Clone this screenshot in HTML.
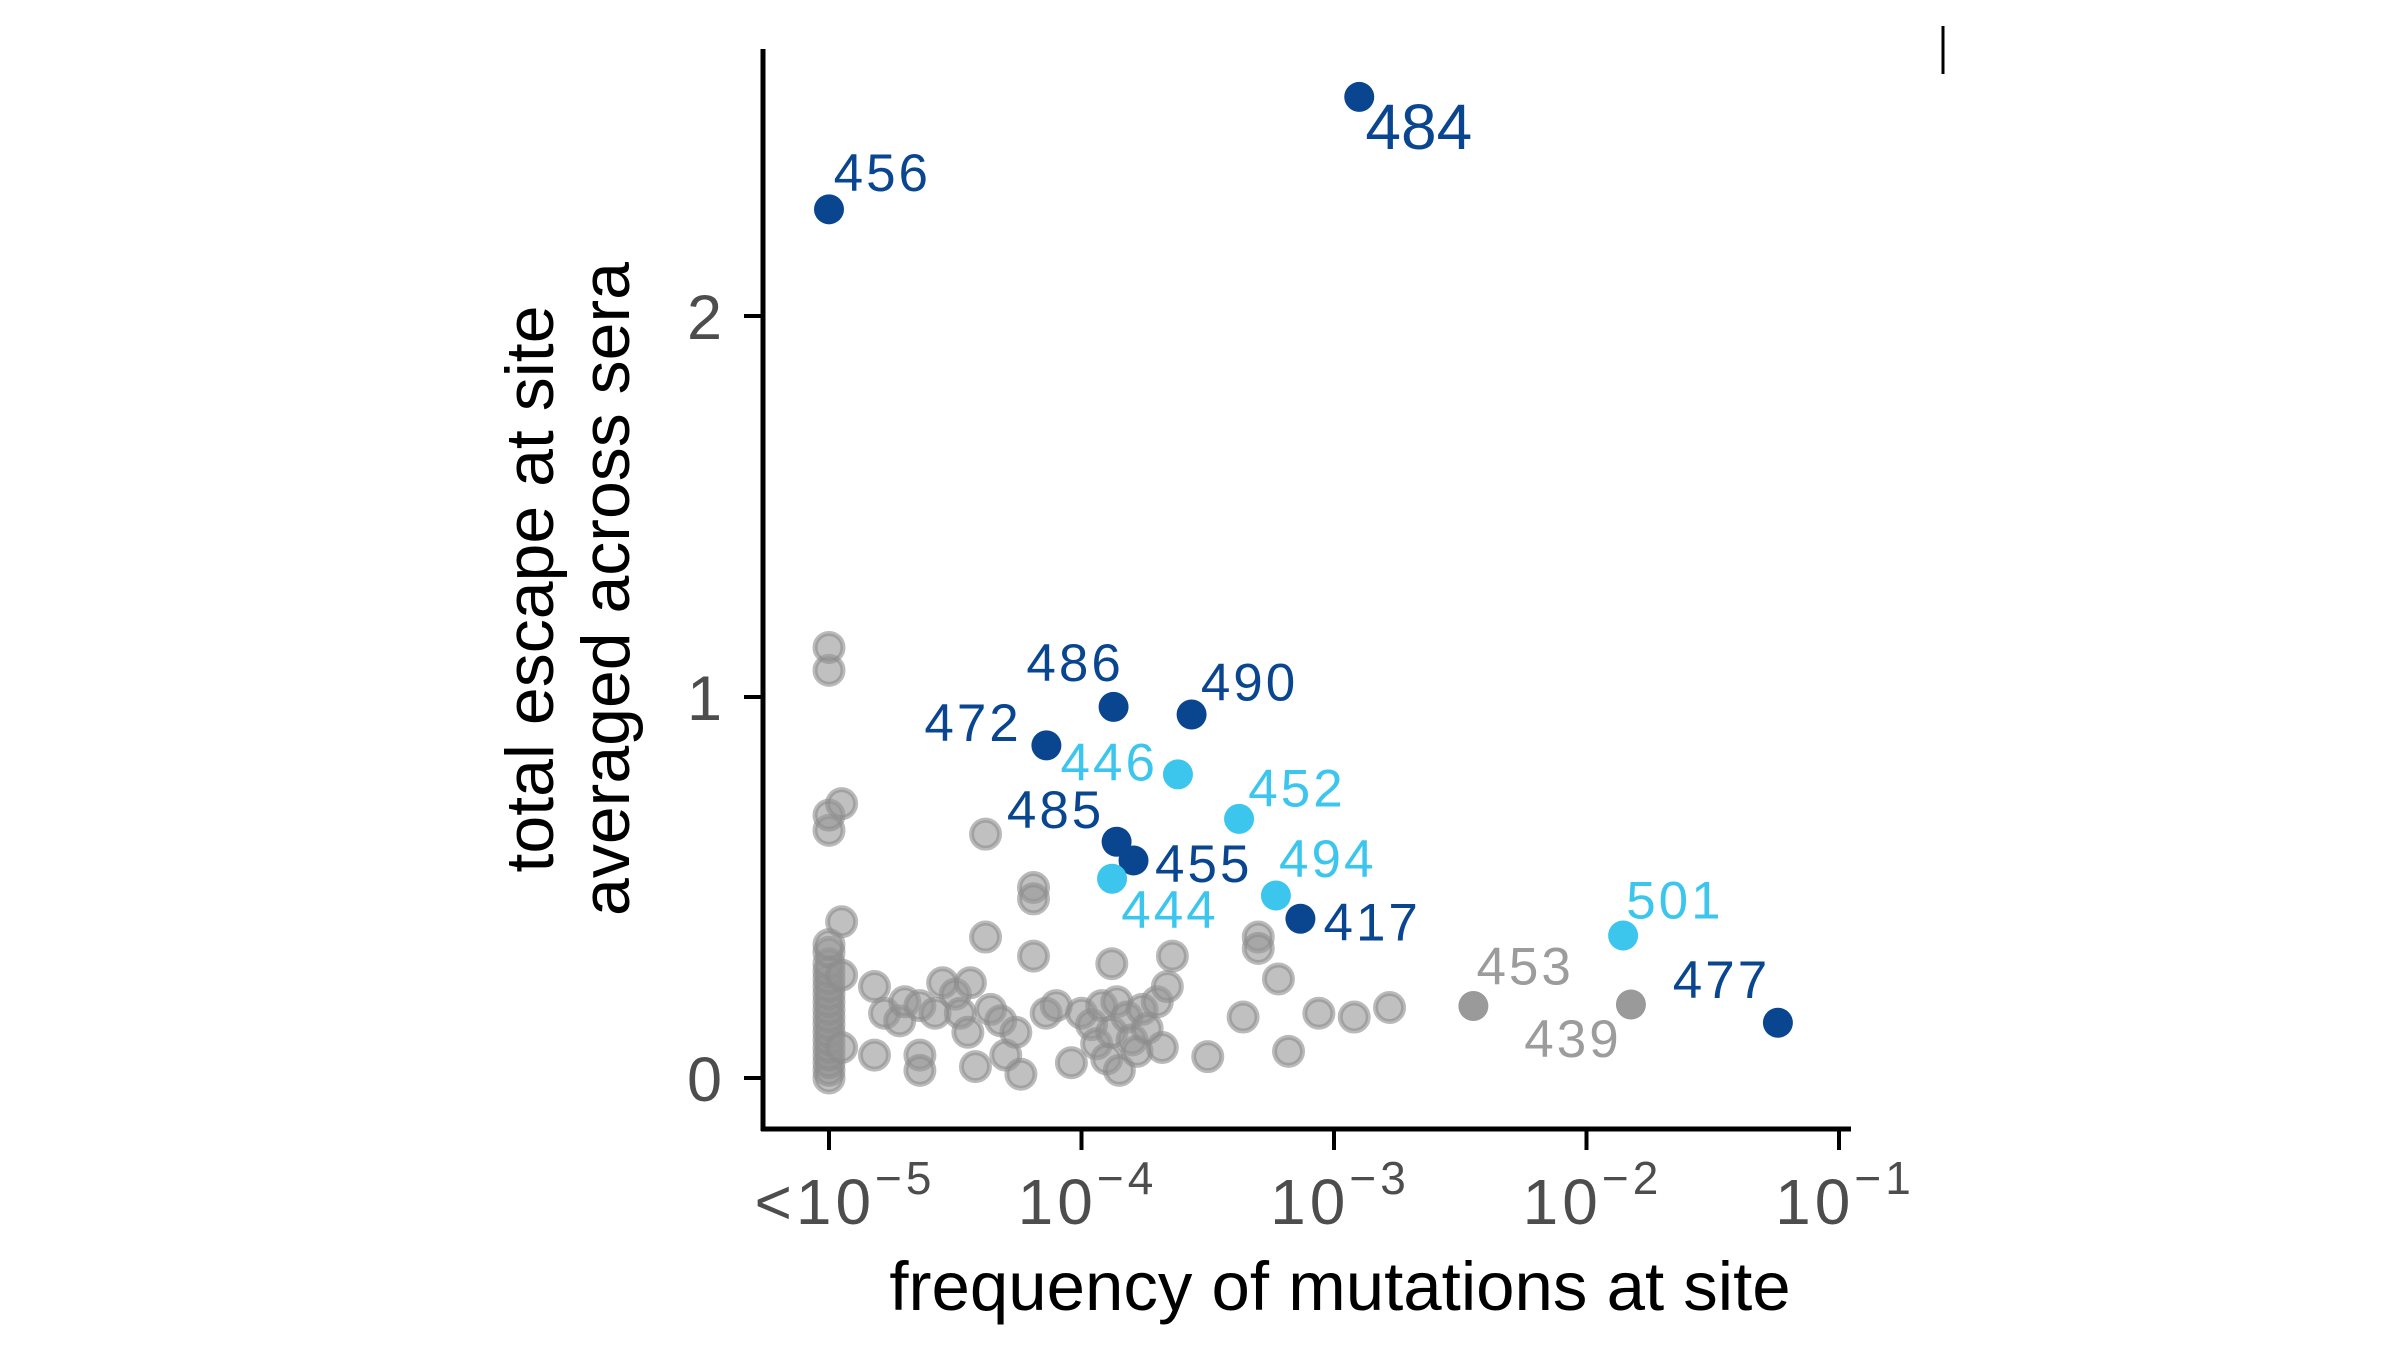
<!DOCTYPE html>
<html><head><meta charset="utf-8">
<style>
html,body{margin:0;padding:0;background:#fff;}
svg{display:block;font-family:"Liberation Sans",Arial,sans-serif;}
</style></head>
<body>
<svg id="chart" width="2400" height="1350" viewBox="0 0 2400 1350" xmlns="http://www.w3.org/2000/svg">
<g id="grayLayer"></g>
<g id="markLayer"></g>
<g id="axisLayer"></g>
<line x1="1943" y1="26" x2="1943" y2="74" stroke="#000" stroke-width="3"/>
</svg>
<script>
// ---- data ----
const grayX = [-5,-5,-5,-5,-5,-5,-5,-5,-5,-5,-5,-5,-5,-5,-5,-5,-5,-5,-5,-5,-5,-5,-4.95,-4.95,-4.95,-4.95,
-4.82,-4.82,-4.78,-4.72,-4.7,-4.64,-4.64,-4.64,-4.58,-4.55,-4.5,-4.48,-4.45,-4.42,-4.44,-4.38,-4.38,-4.36,-4.32,-4.3,-4.26,-4.24,-4.19,-4.19,-4.19,-4.14,-4.1,-4.04,-4.0,-3.96,-3.94,-3.92,-3.9,-3.88,-3.88,-3.86,-3.85,-3.82,-3.8,-3.78,-3.76,-3.74,-3.7,-3.66,-3.64,-3.68,-3.5,-3.36,-3.3,-3.3,-3.22,-3.18,-3.06,-2.92,-2.78];
const grayY = [0,0.02,0.04,0.06,0.08,0.1,0.12,0.14,0.16,0.18,0.2,0.22,0.24,0.26,0.28,0.3,0.33,0.35,0.65,0.69,1.07,1.13,0.72,0.41,0.27,0.08,
0.24,0.06,0.17,0.15,0.2,0.19,0.06,0.02,0.17,0.25,0.22,0.17,0.12,0.03,0.25,0.64,0.37,0.18,0.15,0.06,0.12,0.01,0.5,0.47,0.32,0.17,0.19,0.04,0.17,0.14,0.09,0.19,0.05,0.3,0.12,0.2,0.02,0.16,0.1,0.07,0.18,0.13,0.2,0.24,0.32,0.08,0.056,0.16,0.37,0.34,0.26,0.07,0.17,0.16,0.185];

const siteNames = ["456","484","486","490","472","446","452","485","455","444","494","417","501","453","439","477"];
const siteX = [-5,-2.90,-3.873,-3.564,-4.139,-3.618,-3.376,-3.861,-3.794,-3.879,-3.230,-3.133,-1.855,-2.448,-1.824,-1.242];
const siteY = [2.28,2.575,0.974,0.954,0.873,0.797,0.68,0.62,0.571,0.523,0.479,0.418,0.374,0.189,0.193,0.145];
const siteGroup = ["dark","dark","dark","dark","dark","cyan","cyan","dark","dark","cyan","cyan","dark","cyan","gray","gray","dark"];

const yTicks = [0,1,2];
const yTickLabels = ["0","1","2"];
const xTicks = [-5,-4,-3,-2,-1];
const xTickPre = ["<10","10","10","10","10"];
const xTickExp = ["\u22125","\u22124","\u22123","\u22122","\u22121"];

// ---- scales ----
const X = v => 829 + (v + 5) * 252.5;
const Y = v => 1078 - v * 381;
const S = 1.5385;
const NS = "http://www.w3.org/2000/svg";
function mk(tag, parent){ const e=document.createElementNS(NS,tag); parent.appendChild(e); return e; }

const colors = {dark:"#0a4690", cyan:"#3cc6ee", gray:"#9a9a9a"};
const labOff = {"456":[3,-12,"start"],"484":[4,34,"start"],"486":[-25,-17,"middle"],"490":[6,-9,"start"],
"472":[-16,-3,"end"],"446":[-13,4,"end"],"452":[6,-8,"start"],"485":[-8,-9,"end"],"455":[14,14,"start"],
"444":[6,32,"start"],"494":[2,-12,"start"],"417":[15,14,"start"],"501":[2,-11,"start"],"453":[2,-14,"start"],
"439":[-6,34,"end"],"477":[-5,-16,"end"]};

const gl = document.getElementById('grayLayer');
for (let i=0;i<grayX.length;i++){
  const c = mk('circle', gl);
  
  
  c.setAttribute('cx', X(grayX[i])); c.setAttribute('cy', Y(grayY[i])); c.setAttribute('r', 14);
  c.setAttribute('fill', 'rgba(150,150,150,0.6)');
  c.setAttribute('stroke', 'rgba(140,140,140,0.6)'); c.setAttribute('stroke-width', 5);
}
const ml = document.getElementById('markLayer');
for (let i=0;i<siteNames.length;i++){
  const c = mk('circle', ml);
  
  
  c.setAttribute('cx', X(siteX[i])); c.setAttribute('cy', Y(siteY[i])); c.setAttribute('r', 15);
  c.setAttribute('fill', colors[siteGroup[i]]);
}
for (let i=0;i<siteNames.length;i++){
  const o = labOff[siteNames[i]] || [4,-12,"start"];
  const t = mk('text', ml);
  
  
  t.setAttribute('x', X(siteX[i]) + o[0]*S); t.setAttribute('y', Y(siteY[i]) + o[1]*S);
  t.setAttribute('text-anchor', o[2]);
  const big = siteNames[i]==="484";
  t.setAttribute('font-size', big ? 64 : 53);
  t.setAttribute('letter-spacing', big ? 0 : 3);
  t.setAttribute('fill', siteGroup[i]==="gray" ? "#9c9c9c" : colors[siteGroup[i]]);
  t.textContent = siteNames[i];
}
const al = document.getElementById('axisLayer');
let l = mk('line', al);
 
l.setAttribute('x1',763); l.setAttribute('y1',49); l.setAttribute('x2',763); l.setAttribute('y2',1131);
l.setAttribute('stroke','#000'); l.setAttribute('stroke-width',5);
l = mk('line', al);
 
l.setAttribute('x1',761); l.setAttribute('y1',1129); l.setAttribute('x2',1851); l.setAttribute('y2',1129);
l.setAttribute('stroke','#000'); l.setAttribute('stroke-width',5);
for (let i=0;i<yTicks.length;i++){
  const tk = mk('line', al);
   
  tk.setAttribute('x1',744); tk.setAttribute('x2',763); tk.setAttribute('y1',Y(yTicks[i])); tk.setAttribute('y2',Y(yTicks[i]));
  tk.setAttribute('stroke','#000'); tk.setAttribute('stroke-width',4);
  const t = mk('text', al);
   
  t.setAttribute('x',722); t.setAttribute('y',Y(yTicks[i])+23); t.setAttribute('text-anchor','end');
  t.setAttribute('font-size',63); t.setAttribute('fill','#4d4d4d');
  t.textContent = yTickLabels[i];
}
for (let i=0;i<xTicks.length;i++){
  const tk = mk('line', al);
   
  tk.setAttribute('x1',X(xTicks[i])); tk.setAttribute('x2',X(xTicks[i])); tk.setAttribute('y1',1129); tk.setAttribute('y2',1150);
  tk.setAttribute('stroke','#000'); tk.setAttribute('stroke-width',4);
  const t = mk('text', al);
   
  t.setAttribute('x',X(xTicks[i]) + (i===0 ? 16 : 6)); t.setAttribute('y',1224); t.setAttribute('text-anchor','middle');
  t.setAttribute('font-size',64); t.setAttribute('fill','#4d4d4d'); t.setAttribute('letter-spacing',4);
  const a = mk('tspan', t); a.textContent = xTickPre[i];
  const b = mk('tspan', t); b.setAttribute('font-size',46); b.setAttribute('dy',-30); b.textContent = xTickExp[i];
}
let tt = mk('text', al);
 
tt.setAttribute('x',1340); tt.setAttribute('y',1310); tt.setAttribute('text-anchor','middle');
tt.setAttribute('font-size',69); tt.setAttribute('fill','#000');
tt.textContent = 'frequency of mutations at site';
tt = mk('text', al);
 
tt.setAttribute('transform','translate(553,589) rotate(-90)'); tt.setAttribute('text-anchor','middle');
tt.setAttribute('font-size',68); tt.setAttribute('fill','#000');
const l1 = mk('tspan', tt); l1.setAttribute('x',0); l1.setAttribute('y',0); l1.textContent='total escape at site';
const l2 = mk('tspan', tt); l2.setAttribute('x',0); l2.setAttribute('y',76); l2.textContent='averaged across sera';
</script>
</body></html>
